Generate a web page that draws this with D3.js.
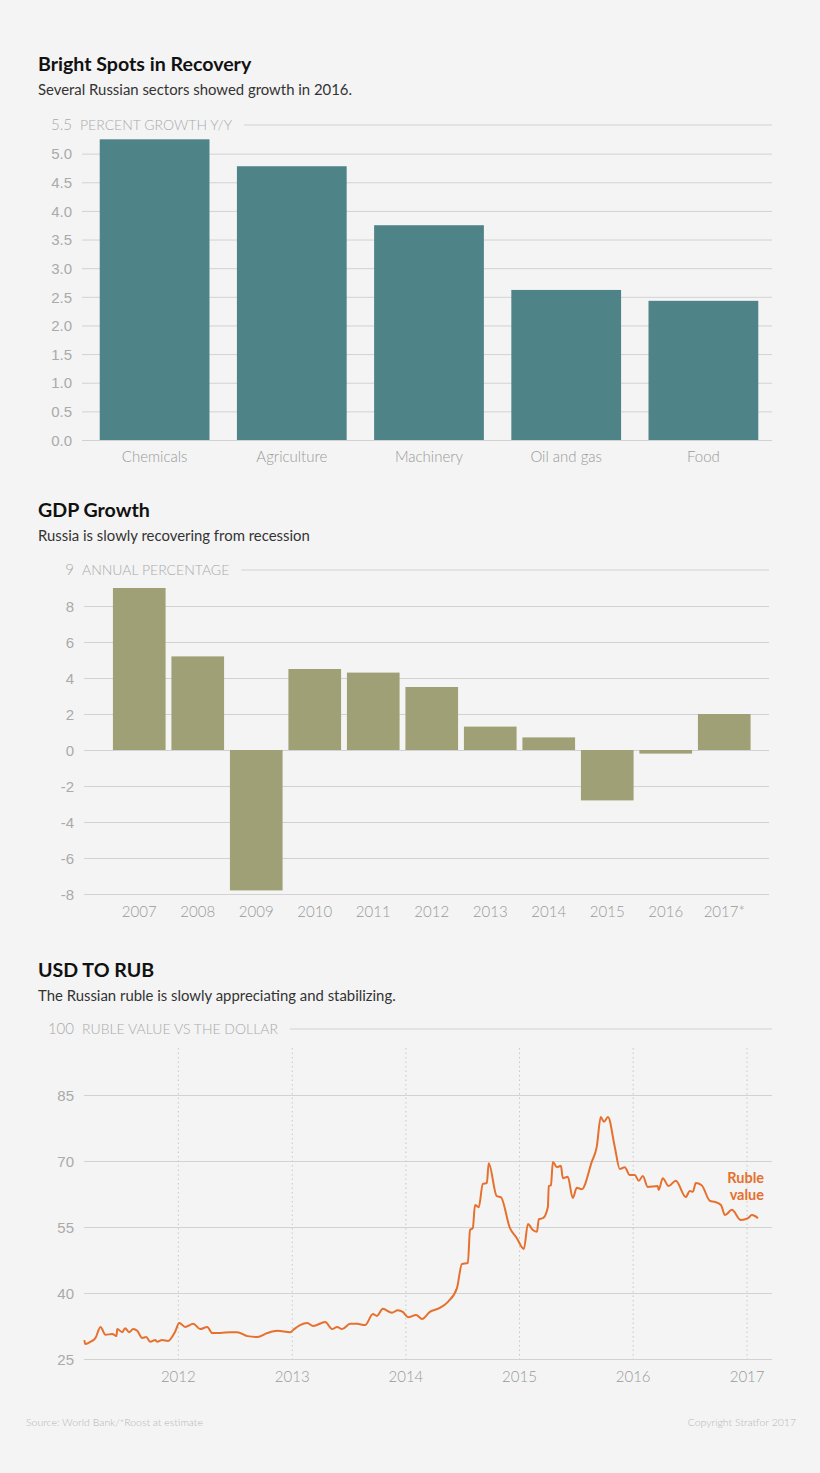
<!DOCTYPE html>
<html>
<head>
<meta charset="utf-8">
<script src="https://cdn.jsdelivr.net/npm/d3@7"></script>
<style>
  body { margin: 0; background: #f4f4f4; }
  svg { display: block; font-family: Lato, "Open Sans", sans-serif; }
  .title { font-weight: 700; font-size: 19.6px; fill: #111; }
  .sub { font-size: 14.9px; fill: #333; }
  .tick text { font-size: 15px; font-weight: 300; fill: #aaa; }
  .tick line { stroke: #d2d2d2; }
  .head { font-size: 14px; font-weight: 300; fill: #aaa; }
  .cat { font-size: 15px; font-weight: 300; fill: #999; }
  .foot { font-size: 10.5px; font-weight: 300; fill: #b5b5b5; }
</style>
</head>
<body>
<div id="chart"></div>
<script>
var width = 820;
var height = 1473;

// chart 1: sector growth
var sectorNames = ["Chemicals", "Agriculture", "Machinery", "Oil and gas", "Food"];
var sectorGrowth = [5.25, 4.78, 3.75, 2.62, 2.43];
var growthTicks = [0, 0.5, 1.0, 1.5, 2.0, 2.5, 3.0, 3.5, 4.0, 4.5, 5.0];
var growthTop = 5.5;

// chart 2: gdp growth
var gdpYears = ["2007", "2008", "2009", "2010", "2011", "2012", "2013", "2014", "2015", "2016", "2017*"];
var gdpValues = [9.0, 5.2, -7.8, 4.5, 4.3, 3.5, 1.3, 0.7, -2.8, -0.2, 2.0];
var gdpTicks = [-8, -6, -4, -2, 0, 2, 4, 6, 8];
var gdpTop = 10;
var gdpTopLabel = "9";

// chart 3: usd to rub
var rubDates = ["2011-03-05","2011-03-08","2011-03-25","2011-04-10","2011-04-26","2011-05-12","2011-06-03","2011-06-16","2011-06-19","2011-07-05",
  "2011-07-14","2011-07-27","2011-08-09","2011-08-22","2011-09-07","2011-09-20","2011-10-03","2011-10-19","2011-10-25","2011-11-10",
  "2011-11-29","2011-12-21","2012-01-04","2012-01-23","2012-02-18","2012-03-11","2012-04-03","2012-04-19","2012-05-15","2012-06-16",
  "2012-07-08","2012-08-10","2012-09-11","2012-10-13","2012-11-14","2012-12-26","2013-01-04","2013-01-26","2013-02-18","2013-03-09",
  "2013-04-17","2013-05-09","2013-05-25","2013-06-10","2013-07-06","2013-07-28","2013-08-23","2013-09-17","2013-09-30","2013-10-19",
  "2013-11-17","2013-12-06","2013-12-22","2014-01-08","2014-02-03","2014-02-22","2014-03-19","2014-04-20","2014-05-16","2014-06-14",
  "2014-06-30","2014-07-19","2014-07-26","2014-08-04","2014-08-11","2014-08-23","2014-09-05","2014-09-18","2014-09-24","2014-10-20",
  "2014-11-02","2014-12-01","2014-12-23","2015-01-15","2015-01-28","2015-02-13","2015-02-26","2015-03-04","2015-03-17","2015-04-02",
  "2015-04-05","2015-04-12","2015-04-18","2015-05-01","2015-05-14","2015-05-20","2015-06-05","2015-06-21","2015-07-04","2015-07-20",
  "2015-08-21","2015-09-06","2015-09-19","2015-09-29","2015-10-12","2015-11-03","2015-11-19","2015-12-05","2015-12-21","2016-01-06",
  "2016-01-19","2016-02-01","2016-02-17","2016-03-20","2016-03-23","2016-04-05","2016-04-24","2016-05-17","2016-06-18","2016-07-01",
  "2016-07-11","2016-07-20","2016-08-08","2016-09-04","2016-09-20","2016-10-09","2016-10-22","2016-11-13","2016-12-12","2017-01-04",
  "2017-01-16","2017-01-26","2017-02-05"];
var rubValues = [29.3,28.4,28.9,29.8,32.3,30.5,30.7,30.2,31.8,31.1,
  32.0,31.1,31.8,31.4,29.8,30.0,28.9,29.3,28.9,29.3,
  29.1,31.1,33.2,32.3,33.0,31.8,32.3,30.9,30.9,31.1,
  31.1,30.2,30.0,30.9,31.4,31.1,31.6,32.7,33.2,32.5,
  33.4,31.8,32.3,31.8,33.0,33.0,32.7,35.2,34.8,36.4,
  35.5,36.1,35.7,34.5,35.0,34.1,35.7,36.6,38.0,41.1,
  46.6,46.8,54.3,54.8,60.0,59.5,64.8,65.0,69.5,62.0,
  61.8,54.8,52.5,50.0,55.7,54.3,53.9,56.8,57.0,59.5,
  64.3,64.5,69.8,68.6,68.9,66.1,66.4,61.6,63.9,63.6,
  69.8,73.2,80.0,78.9,80.0,73.2,68.2,68.6,66.8,66.8,
  65.5,66.6,64.1,64.3,63.4,66.1,64.3,65.5,61.8,63.2,
  63.0,65.0,64.5,60.9,60.7,60.0,57.7,58.9,56.6,57.0,
  57.7,57.5,57.0];
var rubTicks = [25, 40, 55, 70, 85];
var rubTop = 100;
var rubYears = [2012, 2013, 2014, 2015, 2016, 2017];

var teal = "#4e8388";
var olive = "#a0a077";
var orange = "#e6702e";

var svg = d3.select("#chart").append("svg")
    .attr("width", width)
    .attr("height", height);

// plain hyphen for negatives, like the original
function hyphen(f) {
  return function(v) { return f(v).replace("\u2212", "-"); };
}

function header(g, title, sub, y) {
  g.append("text").attr("class", "title").attr("x", 38).attr("y", y).text(title);
  g.append("text").attr("class", "sub").attr("x", 38).attr("y", y + 24).text(sub);
}

// y axis with grid lines, plus the label row at the top
function yGrid(g, yScale, ticks, fmt, x0, x1, topValue, topLabel, headText) {
  var axis = d3.axisLeft(yScale).tickValues(ticks).tickFormat(fmt)
      .tickSize(-(x1 - x0)).tickPadding(10);
  var ax = g.append("g").attr("transform", "translate(" + x0 + ",0)").call(axis);
  ax.select(".domain").remove();
  ax.selectAll(".tick text").attr("dy", "0.35em");

  var yt = yScale(topValue);
  g.append("text").attr("class", "tick-top")
    .attr("x", x0 - 10).attr("y", yt).attr("dy", "0.35em")
    .attr("text-anchor", "end")
    .style("font-size", "15px").style("font-weight", 300).style("fill", "#aaa")
    .text(topLabel);
  var ht = g.append("text").attr("class", "head")
    .attr("x", x0 - 2).attr("y", yt).attr("dy", "0.35em")
    .text(headText);
  var hw = ht.node().getComputedTextLength();
  g.append("line")
    .attr("x1", x0 + hw + 10).attr("x2", x1)
    .attr("y1", yt).attr("y2", yt)
    .attr("stroke", "#d2d2d2");
}

/* ---------- chart 1 ---------- */
var g1 = svg.append("g");
header(g1, "Bright Spots in Recovery", "Several Russian sectors showed growth in 2016.", 71);

var y1 = d3.scaleLinear().domain([0, growthTop]).range([440, 125]);
var x1 = d3.scaleBand().domain(sectorNames).range([86, 772]).paddingInner(0.2).paddingOuter(0.1);

yGrid(g1, y1, growthTicks, d3.format(".1f"), 82, 772, growthTop, d3.format(".1f")(growthTop), "PERCENT GROWTH Y/Y");

g1.selectAll("rect.bar")
  .data(sectorNames)
  .enter().append("rect")
  .attr("class", "bar")
  .attr("x", function(d) { return x1(d); })
  .attr("width", x1.bandwidth())
  .attr("y", function(d, i) { return y1(sectorGrowth[i]); })
  .attr("height", function(d, i) { return y1(0) - y1(sectorGrowth[i]); })
  .attr("fill", teal);

g1.selectAll("text.cat")
  .data(sectorNames)
  .enter().append("text")
  .attr("class", "cat")
  .attr("x", function(d) { return x1(d) + x1.bandwidth() / 2; })
  .attr("y", 462)
  .attr("text-anchor", "middle")
  .text(function(d) { return d; });

/* ---------- chart 2 ---------- */
var g2 = svg.append("g");
header(g2, "GDP Growth", "Russia is slowly recovering from recession", 517);

var y2 = d3.scaleLinear().domain([-8, gdpTop]).range([894, 570]);
var x2 = d3.scaleBand().domain(gdpYears).range([110, 753.5]).paddingInner(0.1).paddingOuter(0.05);

yGrid(g2, y2, gdpTicks, hyphen(d3.format("d")), 84, 769, gdpTop, gdpTopLabel, "ANNUAL PERCENTAGE");

g2.selectAll("rect.bar")
  .data(gdpYears)
  .enter().append("rect")
  .attr("class", "bar")
  .attr("x", function(d) { return x2(d); })
  .attr("width", x2.bandwidth())
  .attr("y", function(d, i) { return y2(Math.max(0, gdpValues[i])); })
  .attr("height", function(d, i) { return Math.abs(y2(gdpValues[i]) - y2(0)); })
  .attr("fill", olive);

g2.selectAll("text.cat")
  .data(gdpYears)
  .enter().append("text")
  .attr("class", "cat")
  .attr("x", function(d) { return x2(d) + x2.bandwidth() / 2; })
  .attr("y", 917)
  .attr("text-anchor", "middle")
  .text(function(d) { return d; });

/* ---------- chart 3 ---------- */
var g3 = svg.append("g");
header(g3, "USD TO RUB", "The Russian ruble is slowly appreciating and stabilizing.", 977);

var parse = d3.timeParse("%Y-%m-%d");
var rub = rubDates.map(function(d, i) { return { date: parse(d), value: rubValues[i] }; });

var y3 = d3.scaleLinear().domain([25, rubTop]).range([1359, 1029]);
var x3 = d3.scaleTime().domain([parse("2011-03-04"), parse("2017-03-22")]).range([84, 772]);

yGrid(g3, y3, rubTicks, d3.format("d"), 84, 772, rubTop, String(rubTop), "RUBLE VALUE VS THE DOLLAR");

var yearDates = rubYears.map(function(y) { return new Date(y, 0, 1); });

g3.selectAll("line.yr")
  .data(yearDates)
  .enter().append("line")
  .attr("class", "yr")
  .attr("x1", function(d) { return x3(d); })
  .attr("x2", function(d) { return x3(d); })
  .attr("y1", 1048)
  .attr("y2", y3(25))
  .attr("stroke", "#c8c8c8")
  .attr("stroke-dasharray", "1.5,3");

g3.selectAll("text.cat")
  .data(yearDates)
  .enter().append("text")
  .attr("class", "cat")
  .attr("x", function(d) { return x3(d); })
  .attr("y", 1382)
  .attr("text-anchor", "middle")
  .text(function(d) { return d.getFullYear(); });

var line = d3.line()
  .x(function(d) { return x3(d.date); })
  .y(function(d) { return y3(d.value); })
  .curve(d3.curveMonotoneX);

g3.append("path")
  .datum(rub)
  .attr("d", line)
  .attr("fill", "none")
  .attr("stroke", orange)
  .attr("stroke-width", 2)
  .attr("stroke-linejoin", "round");

var lab = g3.append("text")
  .attr("x", 764).attr("y", 1183)
  .attr("text-anchor", "end")
  .style("font-size", "14.5px").style("font-weight", 700).style("fill", orange);
lab.append("tspan").attr("x", 764).text("Ruble");
lab.append("tspan").attr("x", 764).attr("dy", 17).text("value");

/* ---------- footer ---------- */
svg.append("text").attr("class", "foot").attr("x", 26).attr("y", 1426)
  .text("Source: World Bank/*Roost at estimate");
svg.append("text").attr("class", "foot").attr("x", 796).attr("y", 1426)
  .attr("text-anchor", "end")
  .text("Copyright Stratfor 2017");
</script>
</body>
</html>
